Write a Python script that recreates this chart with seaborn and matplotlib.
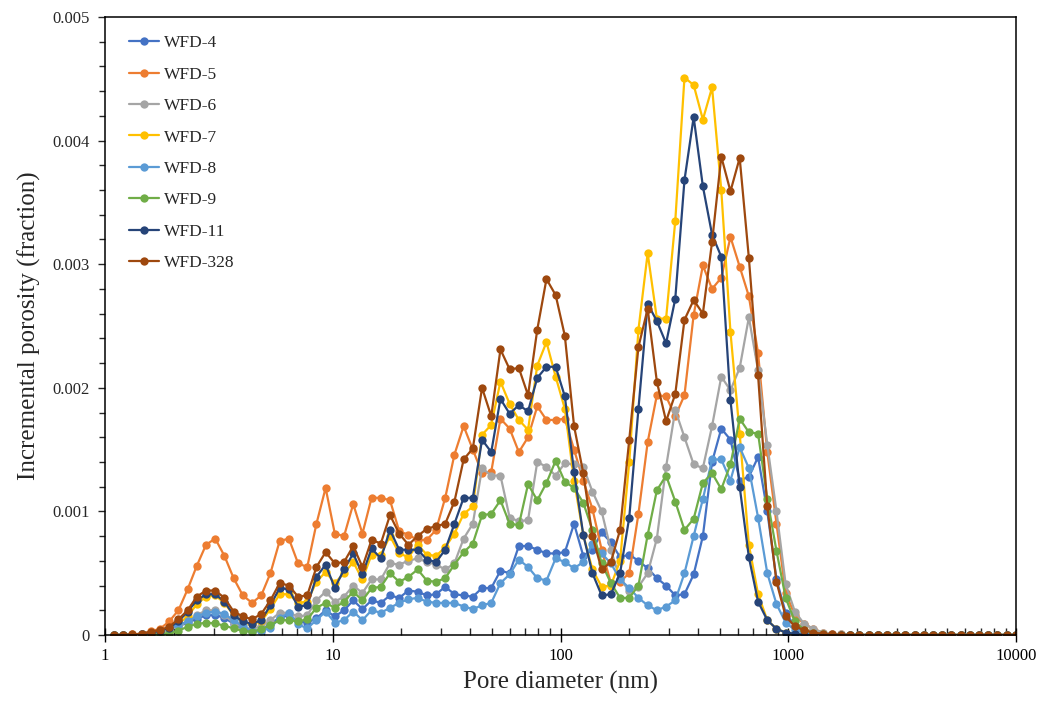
import numpy as np
import pandas as pd
import matplotlib
matplotlib.use("Agg")
import matplotlib.pyplot as plt
import seaborn as sns
from matplotlib.lines import Line2D
from matplotlib.ticker import MultipleLocator, LogLocator, NullFormatter, FuncFormatter, FixedLocator

# Pore diameter (nm)
diameter_nm = [
    1.095, 1.202, 1.319, 1.448, 1.589, 1.744, 1.914, 2.101, 2.306, 2.530, 2.777, 3.048, 3.345, 3.671, 4.029,
    4.422, 4.853, 5.326, 5.845, 6.415, 7.041, 7.727, 8.480, 9.305, 10.21,
    11.21, 12.30, 13.50, 14.81, 16.26, 17.84, 19.58, 21.49, 23.59, 25.89, 28.41, 31.18, 34.22, 37.56, 41.22,
    45.24, 49.65, 54.49, 59.80, 65.63, 72.03, 79.06, 86.77, 95.22, 104.5,
    114.7, 125.9, 138.1, 151.6, 166.4, 182.6, 200.4, 219.9, 241.4, 264.9, 290.8, 319.1, 350.2, 384.3, 421.8,
    462.9, 508.1, 557.6, 612.0, 671.6, 737.1, 809.0, 887.9, 974.4, 1069,
    1174, 1288, 1414, 1551, 1703, 1869, 2051, 2251, 2471, 2712, 2976, 3266, 3585, 3934, 4318,
    4739, 5201, 5708, 6264, 6875, 7546, 8281, 9087, 9970,
]

# Incremental porosity, in units of 1e-4 (fraction)
wfd4 = [
    0, 0, 0.02, 0.05, 0.12, 0.25, 0.45, 0.7, 1.0, 1.3, 1.6, 1.6, 1.4, 0.9, 0.5, 0.3, 0.4, 0.9, 1.4, 1.6, 1.1, 1.0, 1.35, 2.0, 1.5,
    2.0, 2.8, 2.1, 2.8, 2.6, 3.2, 3.0, 3.6, 3.5, 3.2, 3.3, 3.9, 3.3, 3.2, 3.1, 3.8, 3.8, 5.2, 5.0, 7.2, 7.2, 6.9, 6.6, 6.6, 6.7,
    9.0, 6.4, 6.9, 8.3, 7.5, 6.3, 6.5, 6.0, 5.4, 4.6, 4.0, 3.2, 3.3, 4.9, 8.0, 14.0, 16.7, 15.8, 12.5, 12.8, 14.4, 10.0, 4.5, 1.8, 0.7,
    0.3, 0.1, 0.05, 0, 0, 0, 0, 0, 0, 0, 0, 0, 0, 0, 0, 0, 0, 0, 0, 0, 0, 0, 0, 0,
]
wfd5 = [
    0, 0, 0.05, 0.1, 0.3, 0.5, 1.1, 2.0, 3.7, 5.6, 7.3, 7.8, 6.4, 4.6, 3.2, 2.6, 3.2, 5.0, 7.6, 7.8, 5.8, 5.5, 9.0, 11.9, 8.2,
    8.0, 10.6, 8.2, 11.1, 11.1, 10.9, 8.4, 8.1, 7.7, 7.7, 8.5, 11.1, 14.6, 16.9, 15.0, 13.1, 13.2, 17.5, 16.7, 14.8, 16.0, 18.5, 17.4, 17.4, 17.5,
    15.0, 12.5, 10.2, 6.9, 4.2, 4.3, 5.0, 9.8, 15.6, 19.4, 19.3, 17.7, 19.4, 25.9, 29.9, 28.0, 28.9, 32.2, 29.8, 27.4, 22.8, 14.8, 9.0, 3.4, 1.6,
    0.9, 0.5, 0.2, 0.1, 0.05, 0, 0, 0, 0, 0, 0, 0, 0, 0, 0, 0, 0, 0, 0, 0, 0, 0, 0, 0,
]
wfd6 = [
    0, 0, 0.02, 0.05, 0.1, 0.2, 0.4, 0.7, 1.1, 1.6, 2.0, 2.0, 1.6, 1.0, 0.6, 0.5, 0.7, 1.2, 1.8, 1.8, 1.5, 1.6, 2.8, 3.5, 2.7,
    3.1, 4.0, 3.4, 4.5, 4.5, 5.8, 5.7, 6.0, 6.2, 5.9, 5.7, 5.3, 5.8, 7.8, 9.0, 13.5, 12.9, 12.9, 9.5, 9.2, 9.3, 14.0, 13.6, 12.9, 13.9,
    13.8, 13.6, 11.6, 10.0, 6.9, 4.5, 3.6, 3.9, 5.0, 7.8, 13.6, 18.2, 16.0, 13.8, 13.5, 16.9, 20.9, 19.8, 21.6, 25.7, 21.4, 15.4, 10.0, 4.1, 1.9,
    0.9, 0.5, 0.2, 0.1, 0.05, 0, 0, 0, 0, 0, 0, 0, 0, 0, 0, 0, 0, 0, 0, 0, 0, 0, 0, 0,
]
wfd7 = [
    0, 0, 0.03, 0.07, 0.15, 0.3, 0.55, 0.9, 1.5, 2.5, 3.1, 3.2, 2.6, 1.6, 1.0, 0.9, 1.1, 2.1, 3.3, 3.3, 2.6, 2.7, 4.3, 5.1, 4.2,
    5.0, 5.9, 4.5, 6.5, 6.5, 8.0, 6.6, 6.3, 7.3, 6.5, 6.4, 7.1, 8.2, 9.8, 10.4, 16.2, 17.0, 20.5, 18.7, 17.4, 16.6, 21.8, 23.7, 20.9, 18.3,
    12.5, 8.1, 5.3, 3.9, 4.0, 6.0, 14.0, 24.7, 30.9, 25.6, 25.6, 33.5, 45.1, 44.5, 41.7, 44.3, 36.0, 24.5, 16.3, 7.3, 3.3, 1.2, 0.5, 0.2, 0.1,
    0.05, 0, 0, 0, 0, 0, 0, 0, 0, 0, 0, 0, 0, 0, 0, 0, 0, 0, 0, 0, 0, 0, 0, 0,
]
wfd8 = [
    0, 0, 0.02, 0.05, 0.15, 0.3, 0.55, 0.8, 1.1, 1.5, 1.8, 1.9, 1.7, 1.2, 0.7, 0.35, 0.3, 0.6, 1.35, 1.8, 0.85, 0.55, 1.2, 1.9, 1.0,
    1.2, 1.9, 1.2, 2.0, 1.8, 2.2, 2.6, 2.9, 3.0, 2.7, 2.6, 2.6, 2.6, 2.3, 2.1, 2.4, 2.6, 4.2, 4.9, 6.1, 5.5, 4.6, 4.4, 6.2, 5.9,
    5.4, 5.9, 7.4, 6.6, 5.8, 4.5, 3.8, 3.0, 2.4, 2.0, 2.3, 2.8, 5.0, 8.0, 11.0, 14.2, 14.2, 12.5, 15.2, 13.5, 9.5, 5.0, 2.5, 1.0, 0.4,
    0.15, 0.05, 0, 0, 0, 0, 0, 0, 0, 0, 0, 0, 0, 0, 0, 0, 0, 0, 0, 0, 0, 0, 0, 0,
]
wfd9 = [
    0, 0, 0, 0.02, 0.05, 0.08, 0.13, 0.35, 0.67, 0.89, 1.0, 0.94, 0.75, 0.54, 0.32, 0.27, 0.46, 0.81, 1.2, 1.2, 1.1, 1.27, 2.2, 2.6, 2.2,
    2.7, 3.5, 2.8, 3.8, 3.9, 5.0, 4.3, 4.7, 5.3, 4.4, 4.3, 4.6, 5.7, 6.7, 7.4, 9.7, 9.8, 10.9, 9.0, 8.9, 12.2, 10.9, 12.3, 14.1, 12.4,
    11.9, 10.7, 8.5, 5.8, 4.2, 3.0, 3.0, 4.0, 8.1, 11.7, 12.9, 10.8, 8.5, 9.4, 12.3, 13.1, 11.8, 13.8, 17.5, 16.4, 16.3, 11.0, 6.8, 3.0, 1.1,
    0.4, 0.15, 0.05, 0, 0, 0, 0, 0, 0, 0, 0, 0, 0, 0, 0, 0, 0, 0, 0, 0, 0, 0, 0, 0,
]
wfd11 = [
    0, 0, 0.03, 0.08, 0.2, 0.35, 0.6, 1.1, 1.9, 2.8, 3.3, 3.3, 2.7, 1.6, 1.1, 0.9, 1.2, 2.4, 3.8, 3.7, 2.3, 2.4, 4.7, 5.7, 3.8,
    5.3, 6.6, 4.9, 7.0, 6.2, 8.5, 6.9, 6.9, 6.9, 6.1, 5.9, 6.9, 9.0, 11.1, 11.1, 15.8, 14.8, 19.1, 17.9, 18.6, 18.1, 20.8, 21.7, 21.7, 19.3,
    13.2, 8.1, 5.0, 3.2, 3.3, 5.0, 9.5, 18.3, 26.8, 25.4, 23.6, 27.2, 36.8, 41.9, 36.3, 32.4, 30.6, 19.0, 12.0, 6.3, 2.7, 1.2, 0.5, 0.2, 0.1,
    0, 0, 0, 0, 0, 0, 0, 0, 0, 0, 0, 0, 0, 0, 0, 0, 0, 0, 0, 0, 0, 0, 0, 0,
]
wfd328 = [
    0, 0, 0.05, 0.1, 0.27, 0.4, 0.67, 1.27, 2.0, 3.1, 3.6, 3.6, 3.0, 1.9, 1.5, 1.27, 1.7, 2.8, 4.2, 4.0, 3.1, 3.2, 5.5, 6.7, 5.8,
    5.9, 7.2, 5.5, 7.7, 7.4, 9.7, 8.2, 7.3, 8.0, 8.6, 8.8, 9.0, 10.8, 14.2, 15.1, 20.0, 17.7, 23.1, 21.5, 21.6, 19.4, 24.7, 28.8, 27.5, 24.2,
    16.9, 13.1, 8.0, 5.3, 5.9, 8.5, 15.8, 23.3, 26.4, 20.5, 17.3, 19.5, 25.5, 27.1, 26.0, 31.8, 38.7, 35.9, 38.6, 30.5, 21.0, 10.4, 4.3, 1.5, 0.7,
    0.4, 0.2, 0.1, 0.05, 0, 0, 0, 0, 0, 0, 0, 0, 0, 0, 0, 0, 0, 0, 0, 0, 0, 0, 0, 0,
]

samples = ["WFD-4", "WFD-5", "WFD-6", "WFD-7", "WFD-8", "WFD-9", "WFD-11", "WFD-328"]
colors = ["#4472C4", "#ED7D31", "#A5A5A5", "#FFC000", "#5B9BD5", "#70AD47", "#264478", "#9E480E"]
series = [wfd4, wfd5, wfd6, wfd7, wfd8, wfd9, wfd11, wfd328]

sns.set_style("ticks")
plt.rcParams["font.family"] = ["Liberation Serif", "DejaVu Serif"]

rows = []
for name, vals in zip(samples, series):
    for d, v in zip(diameter_nm, vals):
        rows.append((name, d, v * 1e-4))
df = pd.DataFrame(rows, columns=["sample", "diameter", "porosity"])

fig = plt.figure(figsize=(10.38, 7.02), dpi=100)
ax = fig.add_axes([105 / 1038, 67 / 702, 911 / 1038, 618 / 702])

palette = dict(zip(samples, colors))
sns.lineplot(data=df, x="diameter", y="porosity", hue="sample", hue_order=samples,
             palette=palette, marker="o", markersize=6, markeredgewidth=0,
             linewidth=1.6, estimator=None, sort=True, ax=ax, legend=False)

ax.set_xscale("log")
ax.set_xlim(1, 10000)
ax.set_ylim(0, 0.005)

ax.xaxis.set_major_locator(FixedLocator([1, 10, 100, 1000, 10000]))
ax.xaxis.set_major_formatter(FuncFormatter(lambda v, p: f"{v:.0f}"))
ax.xaxis.set_minor_locator(LogLocator(base=10, subs=np.arange(2, 10)))
ax.xaxis.set_minor_formatter(NullFormatter())
ax.yaxis.set_major_locator(MultipleLocator(0.001))
ax.yaxis.set_minor_locator(MultipleLocator(0.0002))
ax.yaxis.set_major_formatter(FuncFormatter(lambda v, p: "0" if abs(v) < 1e-12 else f"{v:.3f}"))

ax.tick_params(axis="x", which="major", direction="inout", length=10, width=1, labelsize=12, pad=4, colors="black")
ax.tick_params(axis="x", which="minor", direction="in", length=5, width=1)
ax.tick_params(axis="y", which="major", direction="out", length=5, width=1, labelsize=12, pad=6)
ax.tick_params(axis="y", which="minor", direction="out", length=4, width=1)
for s in ax.spines.values():
    s.set_visible(True)
    s.set_color("black")
    s.set_linewidth(1.1)

ax.set_xlabel("Pore diameter (nm)", fontsize=18, labelpad=5)
ax.set_ylabel("Incremental porosity (fraction)", fontsize=18, labelpad=8)

handles = [Line2D([0], [0], color=c, marker="o", markersize=6, markeredgewidth=0, linewidth=1.6) for c in colors]
ax.legend(handles, samples, loc="upper left", bbox_to_anchor=(0.019, 0.982), borderaxespad=0,
          frameon=False, fontsize=12.5, labelspacing=0.88, handlelength=1.7, handletextpad=0.3)

fig.savefig("out.png", dpi=100)
